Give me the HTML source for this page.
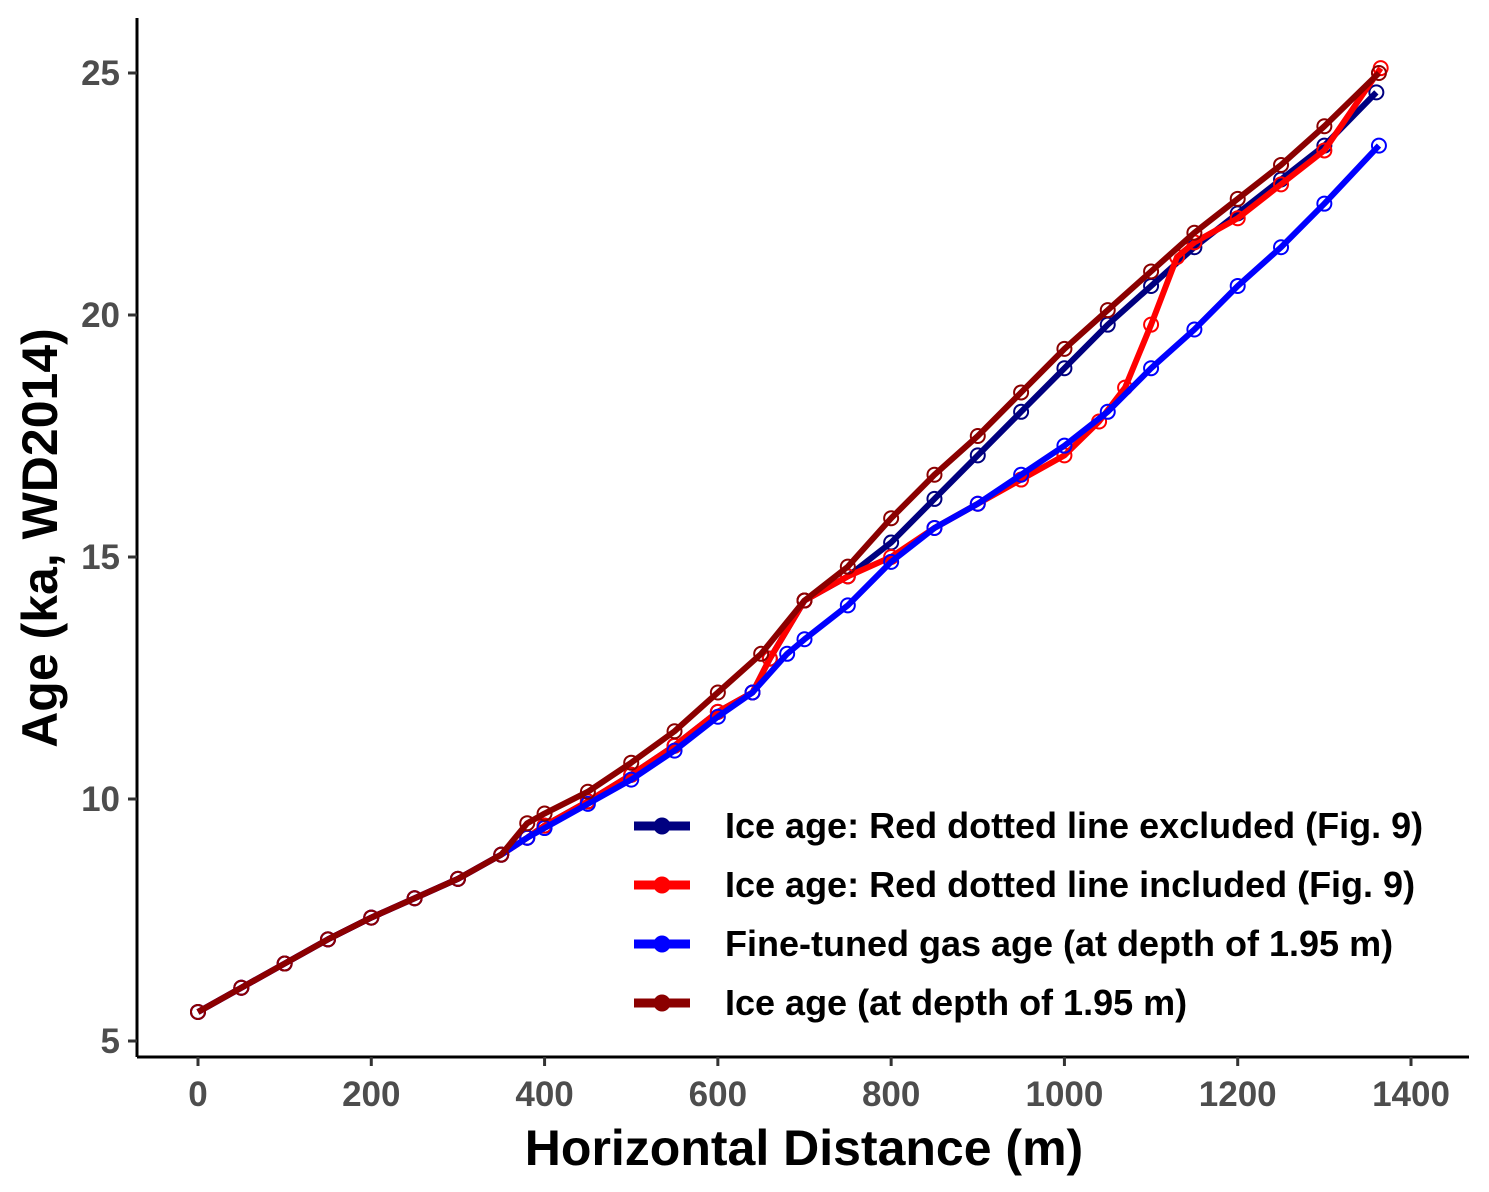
<!DOCTYPE html>
<html><head><meta charset="utf-8"><style>body{margin:0;background:#fff}svg{display:block}text{font-family:"Liberation Sans",Arial,sans-serif;font-weight:bold}</style></head>
<body>
<svg id="chart" width="1489" height="1192" xmlns="http://www.w3.org/2000/svg"></svg>
<script>
const xTicks=[0,200,400,600,800,1000,1200,1400];
const yTicks=[5,10,15,20,25];
const navyX=[0,50,100,150,200,250,300,350,380,400,450,500,550,600,640,660,700,750,800,850,900,950,1000,1050,1100,1150,1200,1250,1300,1360];
const navyY=[5.6,6.1,6.6,7.1,7.55,7.95,8.35,8.85,9.2,9.45,9.95,10.5,11.1,11.8,12.2,12.9,14.1,14.6,15.3,16.2,17.1,18.0,18.9,19.8,20.6,21.4,22.1,22.8,23.5,24.6];
const redX=[0,50,100,150,200,250,300,350,380,400,450,500,550,600,640,660,700,750,800,850,900,950,1000,1040,1070,1100,1130,1150,1200,1250,1300,1365];
const redY=[5.6,6.1,6.6,7.1,7.55,7.95,8.35,8.85,9.2,9.45,9.95,10.5,11.1,11.8,12.2,12.9,14.1,14.6,15.0,15.6,16.1,16.6,17.1,17.8,18.5,19.8,21.2,21.5,22.0,22.7,23.4,25.1];
const blueX=[0,50,100,150,200,250,300,350,380,400,450,500,550,600,640,680,700,750,800,850,900,950,1000,1050,1100,1150,1200,1250,1300,1363];
const blueY=[5.6,6.1,6.6,7.1,7.55,7.95,8.35,8.85,9.2,9.4,9.9,10.4,11.0,11.7,12.2,13.0,13.3,14.0,14.9,15.6,16.1,16.7,17.3,18.0,18.9,19.7,20.6,21.4,22.3,23.5];
const dredX=[0,50,100,150,200,250,300,350,380,400,450,500,550,600,650,700,750,800,850,900,950,1000,1050,1100,1150,1200,1250,1300,1363];
const dredY=[5.6,6.1,6.6,7.1,7.55,7.95,8.35,8.85,9.5,9.7,10.15,10.75,11.4,12.2,13.0,14.1,14.8,15.8,16.7,17.5,18.4,19.3,20.1,20.9,21.7,22.4,23.1,23.9,25.0];
const seriesNames=["Ice age: Red dotted line excluded (Fig. 9)","Ice age: Red dotted line included (Fig. 9)","Fine-tuned gas age (at depth of 1.95 m)","Ice age (at depth of 1.95 m)"];
const NS="http://www.w3.org/2000/svg",svg=document.getElementById('chart');
const sx=v=>198+v*(1411-198)/1400, sy=v=>1041-(v-5)*(1041-73)/20;
function el(t,a,p){const e=document.createElementNS(NS,t);for(const k in a)e.setAttribute(k,a[k]);(p||svg).appendChild(e);return e;}
const ax=el('g',{});
el('line',{x1:137,y1:18,x2:137,y2:1057,stroke:'#000','stroke-width':3},ax);
el('line',{x1:137,y1:1057,x2:1469,y2:1057,stroke:'#000','stroke-width':3},ax);
xTicks.forEach(v=>{el('line',{x1:sx(v),x2:sx(v),y1:1057,y2:1066,stroke:'#333','stroke-width':3},ax);
const t=el('text',{x:sx(v),y:1106,'text-anchor':'middle','font-size':35,fill:'#4d4d4d'},ax);t.textContent=v;
});
yTicks.forEach(v=>{el('line',{x1:128,x2:137,y1:sy(v),y2:sy(v),stroke:'#333','stroke-width':3},ax);
const t=el('text',{x:120,y:sy(v)+12,'text-anchor':'end','font-size':35,fill:'#4d4d4d'},ax);t.textContent=v;
});
const xt=el('text',{x:804,y:1165,'text-anchor':'middle','font-size':50,fill:'#000'});xt.textContent='Horizontal Distance (m)';

const yt=el('text',{x:0,y:0,'text-anchor':'middle','font-size':50,fill:'#000',transform:'translate(57,538) rotate(-90)'});yt.textContent='Age (ka, WD2014)';

const series=[[navyX,navyY,'#000080','series-navy'],[redX,redY,'#ff0000','series-red'],[blueX,blueY,'#0000ff','series-blue'],[dredX,dredY,'#8b0000','series-darkred']];
series.forEach(([X,Y,c,n])=>{const g=el('g',{});
el('polyline',{points:X.map((x,i)=>sx(x)+','+sy(Y[i])).join(' '),fill:'none',stroke:c,'stroke-width':6,'stroke-linejoin':'round'},g);
X.forEach((x,i)=>{const m=el('circle',{cx:sx(x),cy:sy(Y[i]),r:7,fill:'none',stroke:c,'stroke-width':2},g);
});});
const lg=el('g',{});
series.forEach((s,i)=>{const y=826+i*59;const e=el('g',{},lg);
el('line',{x1:634,x2:690,y1:y,y2:y,stroke:s[2],'stroke-width':9},e);
el('circle',{cx:662,cy:y,r:8,fill:s[2],stroke:s[2]},e);
const t=el('text',{x:725,y:y+12,'font-size':36,fill:'#000'},e);t.textContent=seriesNames[i];});
</script>
</body></html>
